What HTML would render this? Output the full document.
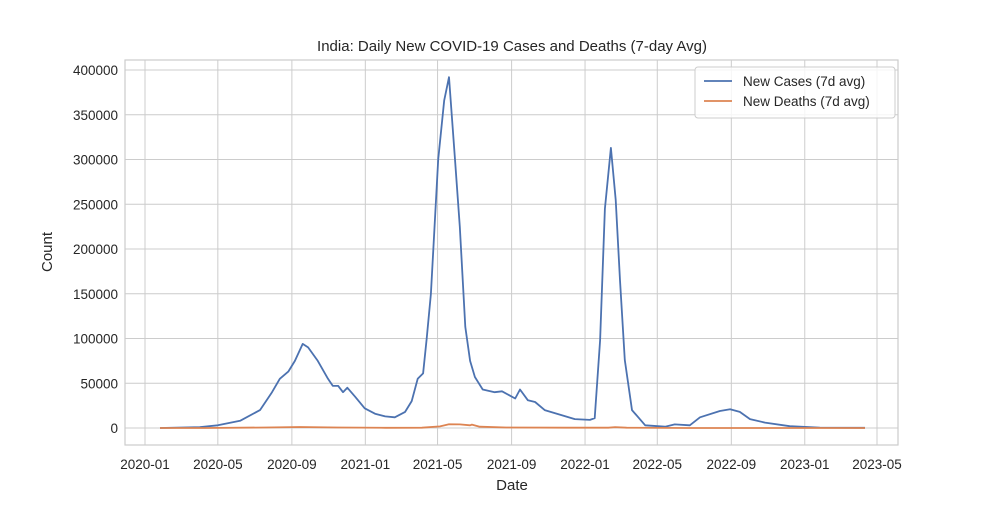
<!DOCTYPE html>
<html><head><meta charset="utf-8"><style>
body{margin:0;background:#fff;font-family:"Liberation Sans",sans-serif}
</style></head><body>
<svg id="chart" width="1000" height="500" font-family="Liberation Sans, sans-serif"></svg>
<script>
// x values: days since 2020-01-01
const caseDays=[25,91,121,158,191,211,224,238,249,262,271,287,304,312,321,329,336,349,365,382,399,415,432,443,453,462,468,475,487,497,505,515,523,532,540,548,561,581,593,615,623,636,648,664,689,714,739,747,756,764,774,782,789,797,809,831,864,880,905,922,955,972,988,1005,1030,1071,1121,1196];
const caseValues=[0,1000,3000,8000,20000,40000,55000,63000,75000,94000,90000,75000,55000,47000,47000,40000,45000,35000,22000,16000,13000,12000,18000,30000,55000,61000,100000,150000,300000,366000,392000,300000,225000,113000,75000,57000,43000,40000,41000,33000,43000,31000,29000,20000,15000,10000,9000,11000,98000,245000,313000,255000,165000,76000,20000,3000,1500,4000,3000,12000,19000,21000,18000,10000,6000,2000,500,200];
const deathDays=[25,100,200,257,320,400,460,490,505,523,540,543,556,600,700,770,781,800,900,1196];
const deathValues=[0,50,600,1150,600,200,300,1800,4100,4000,3000,3800,1500,600,300,300,1000,300,50,20];
const yTicks=[0,50000,100000,150000,200000,250000,300000,350000,400000];
const xTicks=["2020-01","2020-05","2020-09","2021-01","2021-05","2021-09","2022-01","2022-05","2022-09","2023-01","2023-05"];

const svg=document.getElementById('chart');
const NS='http://www.w3.org/2000/svg';
const L=125,R=898,T=60,B=445;
function day(s){const p=s.split('-');return (Date.UTC(+p[0],+p[1]-1,p[2]?+p[2]:1)-Date.UTC(2020,0,1))/864e5;}
function xd(d){return 145+d*(732/1216);}
function xs(s){return xd(day(s));}
function ys(v){return 428-v*(358/400000);}
function el(t,a){const e=document.createElementNS(NS,t);for(const k in a)e.setAttribute(k,a[k]);svg.appendChild(e);return e;}

const bg=el('rect',{x:L,y:T,width:R-L,height:B-T,fill:'#fff',stroke:'#cccccc','stroke-width':1.2});


yTicks.forEach(v=>{
  const g=el('line',{x1:L,x2:R,y1:ys(v),y2:ys(v),stroke:'#cccccc','stroke-width':1});
  
  
  const t=el('text',{x:L-7,y:ys(v)+5,'text-anchor':'end','font-size':13.5,fill:'#262626'});
  t.textContent=v;
  
  
});
xTicks.forEach(s=>{
  const g=el('line',{x1:xs(s),x2:xs(s),y1:T,y2:B,stroke:'#cccccc','stroke-width':1});
  
  
  const t=el('text',{x:xs(s),y:469,'text-anchor':'middle','font-size':13.5,fill:'#262626'});
  t.textContent=s;
  
  
});
function path(ds,vs,c,name){
  const d=ds.map((s,i)=>(i?'L':'M')+xd(s).toFixed(1)+','+ys(vs[i]).toFixed(1)).join('');
  const p=el('path',{d:d,fill:'none',stroke:c,'stroke-width':1.8,'stroke-linejoin':'round'});
  
  
}
path(caseDays,caseValues,'#4c72b0','cases-line');
path(deathDays,deathValues,'#dd8452','deaths-line');

const title=el('text',{x:512,y:51,'text-anchor':'middle','font-size':15,fill:'#262626'});
title.textContent='India: Daily New COVID-19 Cases and Deaths (7-day Avg)';


const xl=el('text',{x:512,y:490,'text-anchor':'middle','font-size':15,fill:'#262626'});
xl.textContent='Date';


const yl=el('text',{x:52,y:252,'text-anchor':'middle','font-size':15,fill:'#262626',transform:'rotate(-90 52 252)'});
yl.textContent='Count';



const lg=el('rect',{x:695,y:67,width:200,height:51,rx:3,fill:'#fff','fill-opacity':0.8,stroke:'#cccccc'});


[['New Cases (7d avg)','#4c72b0',81],['New Deaths (7d avg)','#dd8452',101]].forEach(([n,c,y])=>{
  const l=el('line',{x1:704,x2:732,y1:y,y2:y,stroke:c,'stroke-width':1.8});
  
  
  const t=el('text',{x:743,y:y+5,'font-size':13.5,fill:'#262626'});
  t.textContent=n;
  
  
});
</script>
</body></html>
